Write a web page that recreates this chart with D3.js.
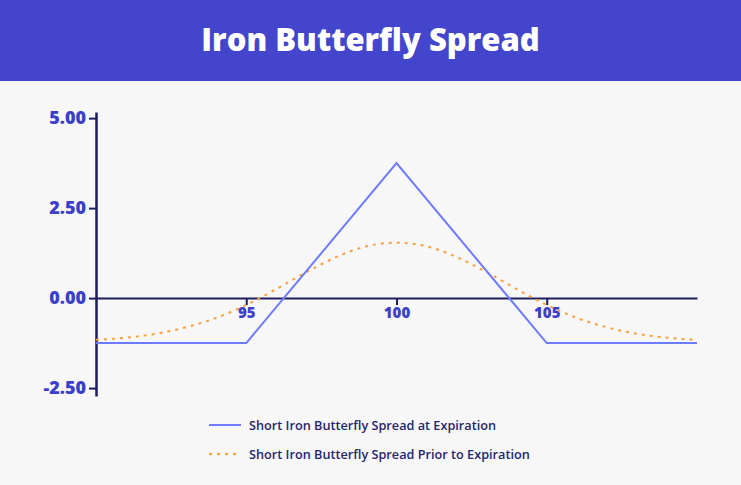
<!DOCTYPE html>
<html><head><meta charset="utf-8">
<script src="https://cdn.jsdelivr.net/npm/d3@7"></script>
<style>
html,body{margin:0;padding:0;background:#f7f7f7;}
svg{display:block;font-family:"Open Sans",sans-serif;}
</style></head>
<body>
<svg id="chart" width="741" height="485"></svg>
<script>
const title = "Iron Butterfly Spread";
const seriesNames = ["Short Iron Butterfly Spread at Expiration", "Short Iron Butterfly Spread Prior to Expiration"];
const expirationPrices = [90, 95, 100, 105, 110];
const expirationValues = [-1.25, -1.25, 3.75, -1.25, -1.25];
const priorPrices = [90, 91, 92, 93, 94, 95, 96, 97, 98, 99, 100, 101, 102, 103, 104, 105, 106, 107, 108, 109, 110];
const priorValues = [-1.16, -1.1, -0.99, -0.81, -0.55, -0.19, 0.25, 0.72, 1.14, 1.44, 1.54, 1.44, 1.14, 0.72, 0.25, -0.19, -0.55, -0.81, -0.99, -1.1, -1.16];
const xTicks = [95, 100, 105];
const yTicks = [-2.5, 0, 2.5, 5];
const yTickLabels = ["-2.50", "0.00", "2.50", "5.00"];

const svg = d3.select("#chart");
const W = 741, H = 485;
svg.append("rect").attr("width", W).attr("height", H).attr("fill", "#f7f7f7");
svg.append("rect").attr("width", W).attr("height", 81).attr("fill", "#4345cc");
svg.append("text").attr("x", W/2).attr("y", 51).attr("text-anchor", "middle")
  .attr("fill", "#ffffff").attr("font-size", 31).attr("font-weight", 800).text(title);

const x = d3.scaleLinear().domain([90, 110]).range([96, 697]);
const y = d3.scaleLinear().domain([-2.72, 5.17]).range([396, 112]);

// y axis
const yAxis = svg.append("g").attr("transform", `translate(${x(90)},0)`)
  .call(d3.axisLeft(y).tickValues(yTicks).tickFormat((d, i) => yTickLabels[i]).tickSize(7).tickPadding(3).tickSizeOuter(0));
yAxis.select(".domain").attr("stroke", "#1e1e5e").attr("stroke-width", 2.5);
yAxis.selectAll(".tick line").attr("stroke", "#1e1e5e").attr("stroke-width", 2);
yAxis.selectAll(".tick text").attr("fill", "#3c3fc9").attr("font-size", 18).attr("font-weight", 800)
  .attr("font-family", "'Open Sans',sans-serif");

// x axis at zero
const xAxis = svg.append("g").attr("transform", `translate(0,${y(0)})`)
  .call(d3.axisBottom(x).tickValues(xTicks).tickFormat(d3.format("d")).tickSize(7).tickPadding(2).tickSizeOuter(0));
xAxis.select(".domain").attr("stroke", "#1e1e5e").attr("stroke-width", 2);
xAxis.selectAll(".tick line").attr("stroke", "#1e1e5e").attr("stroke-width", 2);
xAxis.selectAll(".tick text").attr("fill", "#3c3fc9").attr("font-size", 15).attr("font-weight", 800)
  .attr("font-family", "'Open Sans',sans-serif");

const line = d3.line().x(d => x(d[0])).y(d => y(d[1]));
const curve = d3.line().x(d => x(d[0])).y(d => y(d[1])).curve(d3.curveMonotoneX);

svg.append("path").datum(priorPrices.map((p, i) => [p, priorValues[i]]))
  .attr("d", curve).attr("fill", "none").attr("stroke", "#f7a13e").attr("stroke-width", 2)
  .attr("stroke-dasharray", "3,5");
svg.append("path").datum(expirationPrices.map((p, i) => [p, expirationValues[i]]))
  .attr("d", line).attr("fill", "none").attr("stroke", "#6e7bff").attr("stroke-width", 2);

// legend
const legend = svg.append("g");
const ly = [425, 454];
const lstyles = [{c: "#6e7bff", d: null}, {c: "#f7a13e", d: "3,5"}];
seriesNames.forEach((n, i) => {
  legend.append("line").attr("x1", 209).attr("x2", 241).attr("y1", ly[i]).attr("y2", ly[i])
    .attr("stroke", lstyles[i].c).attr("stroke-width", 2).attr("stroke-dasharray", lstyles[i].d);
  legend.append("text").attr("x", 249).attr("y", ly[i] + 4.5).attr("fill", "#26266a")
    .attr("font-size", 12.7).attr("font-weight", 600).text(n);
});
</script>
</body></html>
